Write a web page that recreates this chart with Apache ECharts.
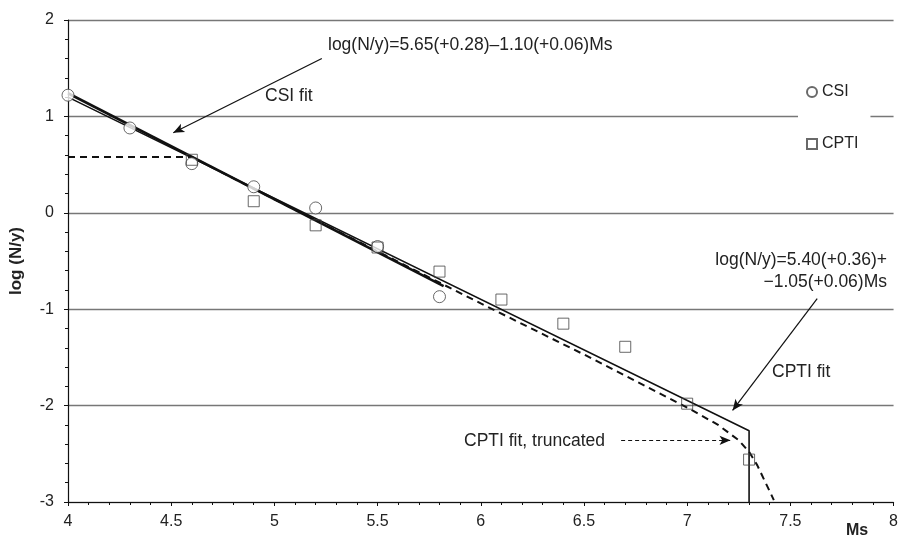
<!DOCTYPE html>
<html>
<head>
<meta charset="utf-8">
<script src="https://cdn.jsdelivr.net/npm/echarts@6/dist/echarts.min.js"></script>
<style>
  html, body { margin: 0; padding: 0; background: #fff; }
  #chart { width: 901px; height: 536px; }
</style>
</head>
<body>
<div id="chart"></div>
<script>
// observed rates
const csiPoints = [[4.0, 1.22], [4.3, 0.88], [4.6, 0.51], [4.9, 0.27], [5.2, 0.05], [5.5, -0.35], [5.8, -0.87]]
const cptiPoints = [[4.6, 0.55], [4.9, 0.12], [5.2, -0.13], [5.5, -0.36], [5.8, -0.61], [6.1, -0.9], [6.4, -1.15], [6.7, -1.39], [7.0, -1.98], [7.3, -2.56]]

// fitted curves
const csiFit = [[4.0, 1.24], [5.82, -0.76]]
const cptiFit = [[4.0, 1.2], [7.3, -2.26], [7.3, -3.0]]
const cptiTruncated = [[4.0, 0.58], [4.6, 0.58], [5.0, 0.14], [5.5, -0.4], [6.0, -0.94], [6.5, -1.47], [7.0, -2.02], [7.15, -2.2], [7.25, -2.36], [7.3, -2.48], [7.34, -2.62], [7.38, -2.8], [7.42, -2.98]]

// annotation arrows [from, to]
const csiArrow = [[5.23, 1.6], [4.51, 0.83]]
const cptiArrow = [[7.63, -0.89], [7.22, -2.05]]
const truncArrow = [[6.68, -2.36], [7.21, -2.36]]

const yTicks = [-3, -2, -1, 0, 1, 2]
const xTicks = [4, 4.5, 5, 5.5, 6, 6.5, 7, 7.5, 8]

const font = 'Liberation Sans, Arial, sans-serif'
const noteFont = '17.5px ' + font
const chart = echarts.init(document.getElementById('chart'))

function arrowLine(pts, dashed) {
  return {
    type: 'line',
    data: [],
    silent: true,
    markLine: {
      silent: true,
      symbol: ['none', 'arrow'],
      symbolSize: [7, 11],
      label: { show: false },
      lineStyle: { color: '#111', width: 1.2, type: dashed ? [4, 3] : 'solid' },
      data: [[{ coord: pts[0] }, { coord: pts[1] }]],
    },
  }
}

function note(x, y, text, extra) {
  return {
    type: 'text',
    x,
    y,
    style: Object.assign({ text, font: noteFont, fill: '#222', verticalAlign: 'middle' }, extra),
  }
}

chart.setOption({
  animation: false,
  grid: { left: 68, right: 5, top: 20, bottom: 34 },
  legend: {
    orient: 'vertical',
    left: 798,
    top: 78,
    itemGap: 36,
    itemWidth: 10,
    itemHeight: 10,
    padding: [6, 12, 6, 8],
    backgroundColor: '#fff',
    textStyle: { fontFamily: font, fontSize: 16, color: '#222' },
    data: ['CSI', 'CPTI'],
  },
  xAxis: {
    type: 'value',
    min: 4,
    max: 8,
    interval: 0.5,
    axisLine: { onZero: false, lineStyle: { color: '#111', width: 1.2 } },
    axisTick: { show: true, length: 4, lineStyle: { color: '#111' } },
    minorTick: { show: true, splitNumber: 5, length: 3, lineStyle: { color: '#111' } },
    splitLine: { show: false },
    axisLabel: {
      margin: 12,
      fontFamily: font,
      fontSize: 16,
      color: '#222',
      formatter: (v) => (xTicks.includes(v) ? String(v) : ''),
    },
  },
  yAxis: {
    type: 'value',
    min: -3,
    max: 2,
    interval: 1,
    name: 'log (N/y)',
    nameLocation: 'middle',
    nameGap: 43,
    nameTextStyle: { fontFamily: font, fontSize: 17, fontWeight: 'bold', color: '#222' },
    axisLine: { show: true, onZero: false, lineStyle: { color: '#111', width: 1.2 } },
    axisTick: { show: true, length: 4, lineStyle: { color: '#111' } },
    minorTick: { show: true, splitNumber: 5, length: 3, lineStyle: { color: '#111' } },
    splitLine: { show: true, lineStyle: { color: '#777', width: 1.3 } },
    axisLabel: {
      margin: 14,
      fontFamily: font,
      fontSize: 16,
      color: '#222',
      formatter: (v) => (yTicks.includes(v) ? String(v) : ''),
    },
  },
  graphic: [
    note(328, 45, 'log(N/y)=5.65(+0.28)\u20131.10(+0.06)Ms'),
    note(265, 96, 'CSI fit'),
    note(887, 260, 'log(N/y)=5.40(+0.36)+', { align: 'right' }),
    note(887, 282, '\u22121.05(+0.06)Ms', { align: 'right' }),
    note(772, 372, 'CPTI fit'),
    note(464, 441, 'CPTI fit, truncated'),
    note(846, 531, 'Ms', { font: 'bold 16px ' + font }),
  ],
  series: [
    {
      name: 'CSI fit',
      type: 'line',
      data: csiFit,
      showSymbol: false,
      lineStyle: { color: '#111', width: 2.6 },
      z: 3,
    },
    {
      name: 'CPTI fit',
      type: 'line',
      data: cptiFit,
      showSymbol: false,
      lineStyle: { color: '#111', width: 1.6 },
      z: 3,
    },
    {
      name: 'CPTI fit, truncated',
      type: 'line',
      data: cptiTruncated,
      showSymbol: false,
      lineStyle: { color: '#111', width: 2, type: [7, 5] },
      z: 3,
    },
    {
      name: 'CSI',
      type: 'scatter',
      data: csiPoints,
      symbol: 'circle',
      symbolSize: 12,
      itemStyle: { color: '#fff', borderColor: '#444', borderWidth: 1 },
      z: 4,
    },
    {
      name: 'CPTI',
      type: 'scatter',
      data: cptiPoints,
      symbol: 'rect',
      symbolSize: 11,
      itemStyle: { color: 'rgba(255,255,255,0)', borderColor: '#444', borderWidth: 1 },
      z: 4,
    },
    arrowLine(csiArrow, false),
    arrowLine(cptiArrow, false),
    arrowLine(truncArrow, true),
  ],
})
</script>
</body>
</html>
